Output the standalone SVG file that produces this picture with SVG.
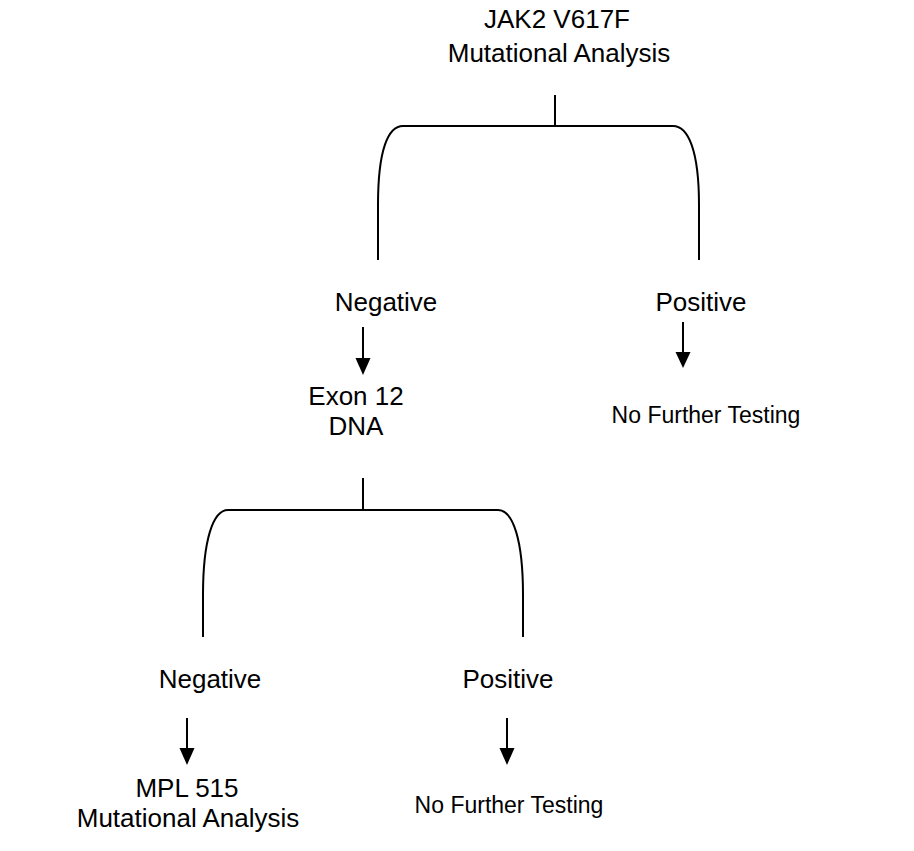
<svg xmlns="http://www.w3.org/2000/svg" width="914" height="851" viewBox="0 0 914 851">
<defs>
<style>
text{font-family:"Liberation Sans",Arial,sans-serif;fill:#000;text-anchor:middle}
.l{font-size:26px}
.s{font-size:23px}
.c{fill:none;stroke:#000;stroke-width:2}
.h{fill:#000}
</style>
</defs>
<rect width="914" height="851" fill="#fff"/>
<g id="connectors">
<path class="c" d="M555,95 V126"/>
<path class="c" d="M378,260 V205 C378,150 388,126 403,126 H673 C688,126 699,150 699,205 V260"/>
<path class="c" d="M363,478 V510"/>
<path class="c" d="M203,637 V595 C203,540 213,510 228,510 H498 C513,510 523,540 523,595 V637"/>
<path class="c" d="M363,327 V360"/>
<path class="h" d="M355.5,358 H370.5 L363,375 z"/>
<path class="c" d="M683,322 V354"/>
<path class="h" d="M675.5,352 H690.5 L683,368 z"/>
<path class="c" d="M187,718 V750"/>
<path class="h" d="M179.5,748 H194.5 L187,765 z"/>
<path class="c" d="M507,718 V750"/>
<path class="h" d="M499.5,748 H514.5 L507,765 z"/>
</g>
<g id="n-jak2"><text class="l" x="557" y="28">JAK2 V617F</text><text class="l" x="559" y="62">Mutational Analysis</text></g>
<g id="n-neg1"><text class="l" x="386" y="311">Negative</text></g>
<g id="n-pos1"><text class="l" x="701" y="311">Positive</text></g>
<g id="n-exon"><text class="l" x="356" y="405">Exon 12</text><text class="l" x="356" y="435">DNA</text></g>
<g id="n-nft1"><text class="s" x="706" y="423">No Further Testing</text></g>
<g id="n-neg2"><text class="l" x="210" y="688">Negative</text></g>
<g id="n-pos2"><text class="l" x="508" y="688">Positive</text></g>
<g id="n-mpl"><text class="l" x="187" y="797">MPL 515</text><text class="l" x="188" y="827">Mutational Analysis</text></g>
<g id="n-nft2"><text class="s" x="509" y="813">No Further Testing</text></g>
</svg>
